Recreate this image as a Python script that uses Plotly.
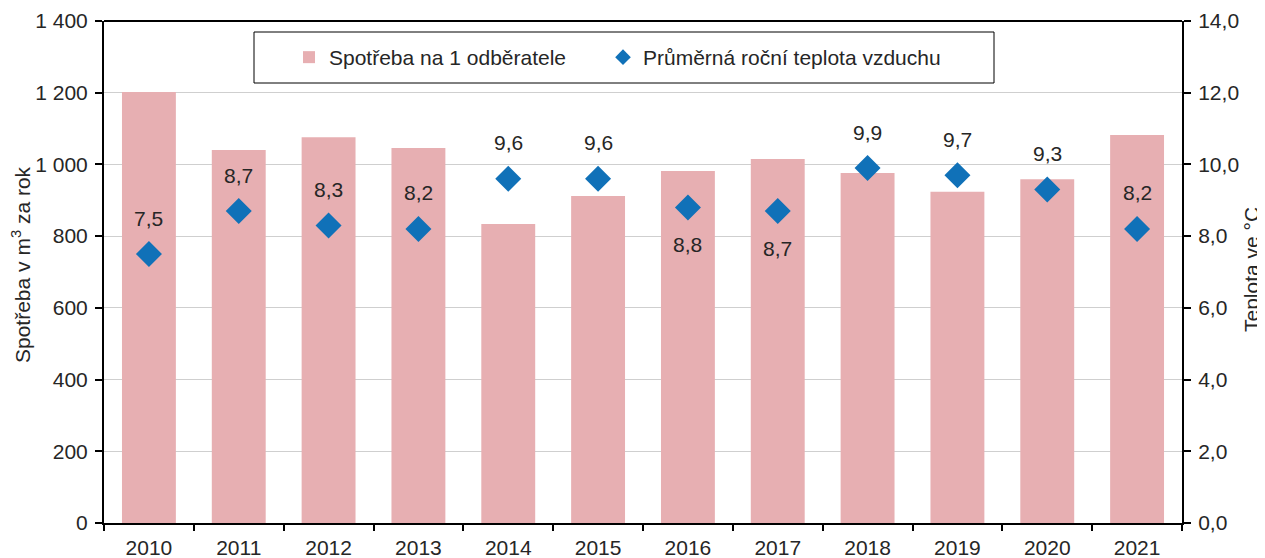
import plotly.graph_objects as go

years = ["2010", "2011", "2012", "2013", "2014", "2015", "2016", "2017", "2018", "2019", "2020", "2021"]
consumption = [1202, 1040, 1076, 1046, 834, 912, 982, 1015, 976, 924, 959, 1082]
temperature = [7.5, 8.7, 8.3, 8.2, 9.6, 9.6, 8.8, 8.7, 9.9, 9.7, 9.3, 8.2]
label_below = [False, False, False, False, False, False, True, True, False, False, False, False]

FONT = "Liberation Sans, Arial, sans-serif"
TXT = "#262626"
FS = 21
BAR_COLOR = "#e7afb2"
DOT_COLOR = "#1071b8"

OFF = 8  # page body margin of the written html
W, H = 1265 - OFF, 558 - OFF
L, T = 104 - OFF, 21 - OFF
R = W - (1182 - OFF)
B = H - (523 - OFF)
PW, PH = W - L - R, H - T - B


def px_x(px):
    return (px - OFF - L) / PW


def px_y(py):
    return (H - B - (py - OFF)) / PH


fig = go.Figure()
fig.add_trace(go.Bar(
    x=years, y=consumption, name="Spotřeba na 1 odběratele",
    marker=dict(color=BAR_COLOR, line=dict(width=0)),
    yaxis="y", legend="legend",
))
fig.add_trace(go.Scatter(
    x=years, y=temperature, name="Průměrná roční teplota vzduchu",
    mode="markers", marker=dict(symbol="diamond", size=20, color=DOT_COLOR),
    yaxis="y2", legend="legend2",
))

for i, (t, below) in enumerate(zip(temperature, label_below)):
    fig.add_annotation(
        x=i, y=t, xref="x", yref="y2",
        text=f"{t:.1f}".replace(".", ","),
        showarrow=False, yshift=-37 if below else 36,
        font=dict(family=FONT, size=FS, color=TXT),
    )

# axis titles
fig.add_annotation(
    x=px_x(21), y=px_y(265), xref="paper", yref="paper",
    text="Spotřeba v m<sup>3</sup> za rok", textangle=-90, showarrow=False,
    xanchor="center", yanchor="middle",
    font=dict(family=FONT, size=FS, color=TXT),
)
fig.add_annotation(
    x=px_x(1251), y=px_y(270), xref="paper", yref="paper",
    text="Teplota ve °C", textangle=-90, showarrow=False,
    xanchor="center", yanchor="middle",
    font=dict(family=FONT, size=FS, color=TXT),
)

# legend frame
fig.add_shape(type="rect", xref="paper", yref="paper",
              x0=px_x(254), x1=px_x(994), y0=px_y(83), y1=px_y(32),
              line=dict(color="#000000", width=1), fillcolor="white", layer="above")

legend_common = dict(
    orientation="h", xanchor="left", yanchor="middle",
    borderwidth=0, bgcolor="rgba(0,0,0,0)",
    font=dict(family=FONT, size=FS, color=TXT), itemsizing="constant",
)

fig.update_layout(
    width=W, height=H,
    margin=dict(l=L, r=R, t=T, b=B, autoexpand=False),
    paper_bgcolor="white", plot_bgcolor="white",
    separators=", ",
    bargap=0.4,
    font=dict(family=FONT, size=FS, color=TXT),
    showlegend=True,
    legend=dict(x=px_x(289), y=px_y(57.5), **legend_common),
    legend2=dict(x=px_x(603), y=px_y(57.5), **legend_common),
    xaxis=dict(
        type="category", range=[-0.5, len(years) - 0.5], automargin=False,
        showline=True, linecolor="#000000", linewidth=2,
        ticks="outside", tickson="boundaries", ticklen=6, tickcolor="#000000", tickwidth=2,
        showgrid=False, mirror=False, tickangle=0, ticklabelstandoff=5,
        tickfont=dict(family=FONT, size=FS, color=TXT),
    ),
    yaxis=dict(
        range=[0, 1400], dtick=200, tickformat=",.0f", automargin=False,
        showline=True, linecolor="#000000", linewidth=2,
        ticks="outside", ticklen=7, tickcolor="#000000", tickwidth=2, ticklabelstandoff=3,
        showgrid=True, gridcolor="#cfcfcf", gridwidth=1, zeroline=False,
        tickfont=dict(family=FONT, size=FS, color=TXT),
    ),
    yaxis2=dict(
        range=[0, 14], dtick=2, tickformat=".1f", overlaying="y", side="right", automargin=False,
        showline=True, linecolor="#000000", linewidth=2,
        ticks="outside", ticklen=7, tickcolor="#000000", tickwidth=2, ticklabelstandoff=3,
        showgrid=False, zeroline=False,
        tickfont=dict(family=FONT, size=FS, color=TXT),
    ),
)

fig.add_shape(type="line", xref="paper", yref="paper", x0=0, x1=1, y0=1, y1=1,
              line=dict(color="#000000", width=2))

fig.write_html("out.html")
